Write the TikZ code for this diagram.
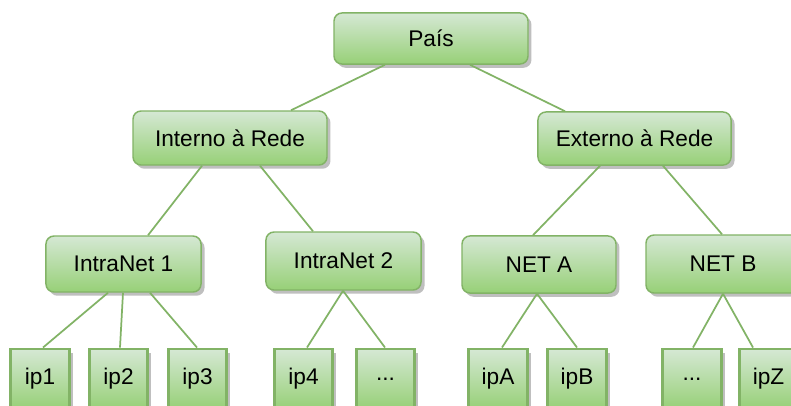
\documentclass[tikz,border=0pt]{standalone}
\usepackage{fontspec}
\setmainfont{Liberation Sans}
\usetikzlibrary{shadows,calc}
\definecolor{gtop}{HTML}{D5E8D4}
\definecolor{gbot}{HTML}{97D077}
\definecolor{gline}{HTML}{82B366}
\definecolor{shad}{HTML}{BFBFBF}
\tikzset{
  box/.style={draw=gline, line width=1.1pt, rounded corners=6pt, top color=gtop, bottom color=gbot,
    inner sep=0pt, font=\fontsize{17}{20}\selectfont,
    drop shadow={shadow xshift=2.6pt, shadow yshift=-2.8pt, fill=shad, opacity=1}},
  ipbox/.style={draw=gline, line width=2.2pt, top color=gtop, bottom color=gbot,
    inner sep=0pt, minimum width=44pt, minimum height=45pt, font=\fontsize{17}{20}\selectfont,
    drop shadow={shadow xshift=2.6pt, shadow yshift=-2.8pt, fill=shad, opacity=1}},
  link/.style={draw=gline, line width=1.3pt}
}
\begin{document}
\begin{tikzpicture}[x=0.75pt,y=-0.75pt]
\useasboundingbox (0,0) rectangle (791,405);
\clip (0,0) rectangle (791,405);
\fill[white] (0,0) rectangle (791,405);
% edges (drawn first, behind boxes)
\coordinate (cP) at (431,38.5);
\node[box, minimum width=145.5pt, minimum height=38.3pt] (pais) at (431,38.5) {País};
\node[box, minimum width=145.5pt, minimum height=40.5pt] (int) at (230,138) {Interno à Rede};
\node[box, minimum width=144.8pt, minimum height=39.8pt] (ext) at (634.5,138.5) {Externo à Rede};
\node[box, minimum width=116.3pt, minimum height=42pt] (in1) at (123.5,264) {IntraNet 1};
\node[box, minimum width=116.3pt, minimum height=43.5pt] (in2) at (343.5,261) {IntraNet 2};
\node[box, minimum width=115.5pt, minimum height=42.8pt] (neta) at (539,264.5) {NET A};
\node[box, minimum width=115.5pt, minimum height=43.5pt] (netb) at (723,264) {NET B};
\node[ipbox] (ip1) at (40,379) {ip1};
\node[ipbox] (ip2) at (118.5,379) {ip2};
\node[ipbox] (ip3) at (197.5,379) {ip3};
\node[ipbox] (ip4) at (303.5,379) {ip4};
\node[ipbox] (d1) at (385.5,379) {...};
\node[ipbox] (ipA) at (498,379) {ipA};
\node[ipbox] (ipB) at (577,379) {ipB};
\node[ipbox] (d2) at (692,379) {...};
\node[ipbox] (ipZ) at (768.5,379) {ipZ};
% connectors
\draw[link] ($(pais.south)+(-46,0)$) -- ($(int.north)+(61,0)$);
\draw[link] ($(pais.south)+(39,0)$) -- ($(ext.north)+(-69.5,0)$);
\draw[link] ($(int.south)+(-28,0)$) -- ($(in1.north)+(24.5,0)$);
\draw[link] ($(int.south)+(30,0)$) -- ($(in2.north)+(-30.5,0)$);
\draw[link] ($(ext.south)+(-34.5,0)$) -- ($(neta.north)+(-6,0)$);
\draw[link] ($(ext.south)+(28.5,0)$) -- ($(netb.north)+(-1,0)$);
\draw[link] ($(in1.south)+(-15.5,0)$) -- ($(ip1.north)+(3,0)$);
\draw[link] ($(in1.south)+(-0.5,0)$) -- ($(ip2.north)+(1.5,0)$);
\draw[link] ($(in1.south)+(26.5,0)$) -- ($(ip3.north)+(-0.5,0)$);
\draw[link] ($(in2.south)+(-0.5,0)$) -- ($(ip4.north)+(3.5,0)$);
\draw[link] ($(in2.south)+(-0.5,0)$) -- ($(d1.north)+(-0.5,0)$);
\draw[link] ($(neta.south)+(-2,0)$) -- ($(ipA.north)+(4,0)$);
\draw[link] ($(neta.south)+(-2,0)$) -- ($(ipB.north)+(0,0)$);
\draw[link] ($(netb.south)+(0,0)$) -- ($(d2.north)+(1,0)$);
\draw[link] ($(netb.south)+(0,0)$) -- ($(ipZ.north)+(-15.5,0)$);
\end{tikzpicture}
\end{document}
